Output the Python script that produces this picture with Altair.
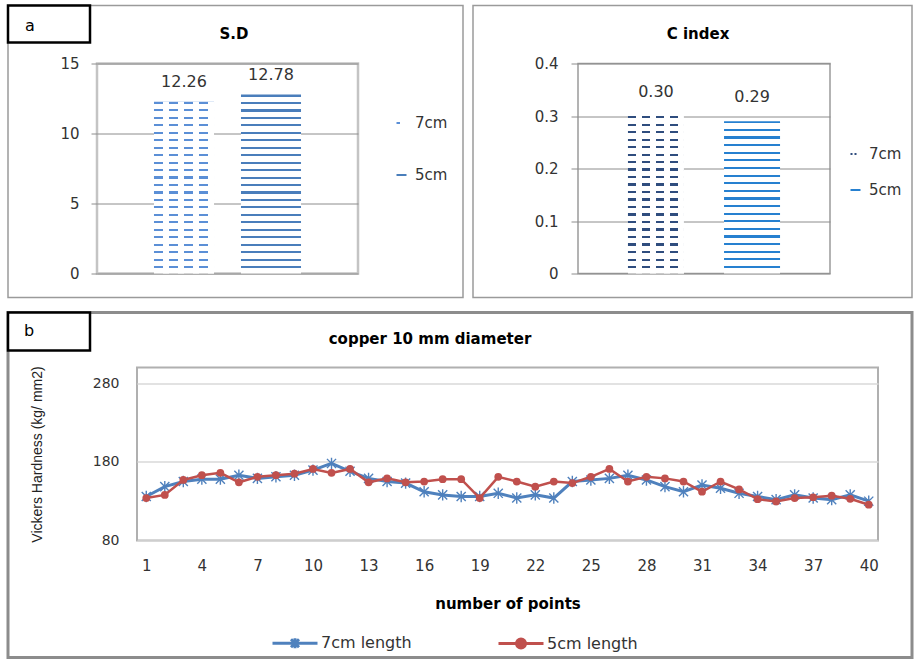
import altair as alt
import pandas as pd

# ---------------- data ----------------
sd_groups = ["7cm", "5cm"]
sd_values = [12.26, 12.78]
sd_labels = ["12.26", "12.78"]

ci_groups = ["7cm", "5cm"]
ci_values = [0.30, 0.29]
ci_labels = ["0.30", "0.29"]

points = list(range(1, 41))
hv_7cm = [136, 148.5, 155, 158, 158, 163, 159, 161, 163, 169.5,
          178, 168, 159, 155, 153, 142, 138, 136, 136, 140,
          134, 138, 134, 155, 157, 159, 163, 157, 148.5, 142,
          150.6, 146.5, 140, 136, 132, 138, 134, 132, 138, 130]
hv_5cm = [134, 138, 157, 163, 166, 154, 161, 163, 165, 171,
          166, 171, 154, 159, 154, 155, 158, 158, 134, 161,
          155, 148.5, 155, 153, 161, 171, 155, 161, 159, 155,
          142, 155, 145, 132.6, 129.6, 134, 135, 137, 133, 125.5]
series_names = ["7cm length", "5cm length"]
x_ticks = list(range(1, 41, 3))

# ---------------- style ----------------
FONT = "DejaVu Sans"
TXT = "#333333"
BLUE = "#4f81bd"
RED = "#c0504d"
one = pd.DataFrame({"k": [0]})


def stripe_fill(color, n, frac, vertical_stack=True, bg="#ffffff"):
    stops = []
    for k in range(n):
        a = k / n
        b = (k + frac) / n
        c = (k + 1) / n
        stops += [alt.GradientStop(offset=a, color=color),
                  alt.GradientStop(offset=b, color=color),
                  alt.GradientStop(offset=b, color=bg),
                  alt.GradientStop(offset=c, color=bg)]
    if vertical_stack:
        return alt.Gradient(gradient="linear", stops=stops, x1=0, y1=0, x2=0, y2=1)
    return alt.Gradient(gradient="linear", stops=stops, x1=0, y1=0, x2=1, y2=0)


def frame(x1, x2, y1, y2, stroke, sw, fill="#ffffff", fo=0):
    return alt.Chart(one).mark_rect(stroke=stroke, strokeWidth=sw, fill=fill, fillOpacity=fo).encode(
        x=alt.value(x1), x2=alt.value(x2), y=alt.value(y1), y2=alt.value(y2))


def label(txt, x, y, size, bold=False, align="center", font=FONT, color="#000000"):
    return alt.Chart(one).mark_text(text=txt, fontSize=size, fontWeight="bold" if bold else "normal",
                                    align=align, baseline="middle", font=font, color=color).encode(
        x=alt.value(x), y=alt.value(y))


def bar_panel(groups, values, labels, ymax, ticks, fmt_expr, W, H, colors, dash_counts,
              frame_box, title, title_xy, legend_xy, row_pad, sym_paths, label_dy,
              view_stroke, view_sw, tick_size, label_pad, pads):
    df = pd.DataFrame({"group": groups, "value": values, "label": labels})
    base = alt.Chart(df)
    x = alt.X("group:N", sort=groups,
              scale=alt.Scale(domain=groups, paddingInner=pads[0], paddingOuter=pads[1]), axis=None)
    y = alt.Y("value:Q", scale=alt.Scale(domain=[0, ymax], nice=False, zero=True),
              axis=alt.Axis(values=ticks, title=None, grid=True, gridColor="#8c8c8c", gridWidth=1,
                            domain=False, ticks=True, tickColor="#8c8c8c", tickSize=tick_size,
                            labelPadding=label_pad, labelFontSize=15, labelColor=TXT, labelFont=FONT,
                            labelExpr=fmt_expr))
    layers = [frame(*frame_box, stroke="#9a9a9a", sw=1.5)]
    for g, v, col, m in zip(groups, values, colors, dash_counts):
        h = v / ymax * H
        n = max(1, round(h / 7.6))
        sub = base.transform_filter(alt.datum.group == g)
        layers.append(sub.mark_bar(fill=stripe_fill(col, n, 0.28), strokeWidth=0).encode(x=x, y=y))
        if m:
            layers.append(sub.mark_bar(fill=stripe_fill("rgba(255,255,255,0)", m, 0.6,
                                                         vertical_stack=False),
                                       strokeWidth=0).encode(x=x, y=y))
    layers.append(base.mark_text(dy=label_dy, fontSize=16, font=FONT, color=TXT).encode(
        x=x, y=y, text="label:N"))
    leg = alt.Legend(orient="none", legendX=legend_xy[0], legendY=legend_xy[1], title=None,
                     labelFont=FONT, labelFontSize=15, labelColor=TXT, symbolSize=100,
                     symbolStrokeWidth=2, symbolOpacity=1, rowPadding=row_pad, labelOffset=6)
    layers.append(base.mark_point(opacity=0, filled=False).encode(
        x=x, y=y,
        color=alt.Color("group:N", scale=alt.Scale(domain=groups, range=colors), legend=leg),
        shape=alt.Shape("group:N", scale=alt.Scale(domain=groups, range=sym_paths), legend=leg)))
    layers.append(label(title, title_xy[0], title_xy[1], 15, bold=True))
    return alt.layer(*layers).properties(
        width=W, height=H, view=alt.ViewBackground(stroke=view_stroke, strokeWidth=view_sw))


# ---------- panel a : S.D ----------
W1, H1 = 261, 210
sd_chart = bar_panel(
    sd_groups, sd_values, sd_labels, 15, [0, 5, 10, 15], "datum.label",
    W1, H1, ["#5b8fd6", "#4a7ebb"], [4, 0],
    (-89, W1 + 105, -58, H1 + 24), "S.D", (137, -30), (297, 52), 36,
    ["M-1,0H-0.3", "M-1,0H1"], -20, "#c4c4c4", 2.5, 6, 12, (0.31, 0.655))
sd_chart = alt.layer(
    sd_chart,
    frame(-89, -7, -58, -21, stroke="#000000", sw=2.5, fill="#ffffff", fo=1),
    label("a", -67, -38, 16),
).properties(width=W1, height=H1)

# ---------- C index ----------
W2, H2 = 252, 210
ci_chart = bar_panel(
    ci_groups, ci_values, ci_labels, 0.4, [0, 0.1, 0.2, 0.3, 0.4],
    "datum.value == 0 ? '0' : format(datum.value, '.1f')",
    W2, H2, ["#2f4d7e", "#2680d0"], [4, 0],
    (-105, W2 + 82, -58, H2 + 24), "C index", (120, -30), (270, 83), 20,
    ["M-1,0H-0.6M-0.2,0H0.2", "M-1,0H1"], -24, "#9a9a9a", 1.5, 7, 13, (0.417, 0.52))

# ---------- panel b : line chart ----------
W3, H3 = 741, 173
hv_df = pd.DataFrame({
    "point": points * 2,
    "hv": hv_7cm + hv_5cm,
    "series": [series_names[0]] * len(points) + [series_names[1]] * len(points),
})
lbase = alt.Chart(hv_df)
lx = alt.X("point:Q", scale=alt.Scale(domain=[0.5, 40.5], nice=False, zero=False),
           axis=alt.Axis(values=x_ticks, title="number of points", titleFontWeight="bold",
                         titleFontSize=15, titleFont=FONT, titleColor="#000000", titlePadding=23,
                         labelFontSize=15, labelFont=FONT, labelColor=TXT, labelPadding=18,
                         ticks=False, domain=False, grid=False))
ly = alt.Y("hv:Q", scale=alt.Scale(domain=[80, 300], nice=False, zero=False),
           axis=alt.Axis(values=[80, 180, 280], title="Vickers Hardness (kg/ mm2)",
                         titleFont="Liberation Sans", titleFontSize=14, titleFontWeight="normal",
                         titleColor="#222222", titlePadding=48, labelFontSize=14, labelFont=FONT,
                         labelColor=TXT, labelPadding=18, ticks=False, domain=False, grid=True,
                         gridColor="#d9d9d9", gridWidth=1.5))
ASTER = "M0,-1V1M-0.8,-0.8L0.8,0.8M-0.8,0.8L0.8,-0.8"
# legend symbols: 20px box, drawn as a line (-35px .. +10px) with the marker at -12.5px
LEG7 = "M-3.5,0H1M-1.25,-0.5V0.5M-1.65,-0.4L-0.85,0.4M-1.65,0.4L-0.85,-0.4"
LEG5 = "M-3.5,0H1M-0.8,0A0.45,0.45,0,1,1,-1.7,0A0.45,0.45,0,1,1,-0.8,0Z"
s7 = lbase.transform_filter(alt.datum.series == series_names[0])
s5 = lbase.transform_filter(alt.datum.series == series_names[1])
lleg = alt.Legend(orient="none", legendX=159, legendY=264, direction="horizontal", title=None,
                  symbolSize=400, symbolStrokeWidth=3, symbolOpacity=1, labelFontSize=16,
                  labelFont=FONT, labelColor=TXT, columnPadding=80, labelOffset=2, padding=0)
line_chart = alt.layer(
    frame(-129, W3 + 34, -55, H3 + 117, stroke="#8c8c8c", sw=3),
    s7.mark_line(color=BLUE, strokeWidth=3).encode(x=lx, y=ly),
    s7.mark_point(shape=ASTER, size=130, color=BLUE, strokeWidth=1.4, filled=False, opacity=1).encode(x=lx, y=ly),
    s5.mark_line(color=RED, strokeWidth=2.5).encode(x=lx, y=ly),
    s5.mark_circle(size=60, color=RED, opacity=1).encode(x=lx, y=ly),
    lbase.mark_point(opacity=0, filled=True).encode(
        x=lx, y=ly,
        fill=alt.Fill("series:N", scale=alt.Scale(domain=series_names, range=[BLUE, RED]), legend=lleg),
        stroke=alt.Stroke("series:N", scale=alt.Scale(domain=series_names, range=[BLUE, RED]), legend=lleg),
        shape=alt.Shape("series:N", scale=alt.Scale(domain=series_names, range=[LEG7, LEG5]), legend=lleg)),
    frame(-129, -47, -55, -17, stroke="#000000", sw=2.5, fill="#ffffff", fo=1),
    label("b", -108, -37, 16),
    label("copper 10 mm diameter", 293, -29, 15, bold=True),
).properties(width=W3, height=H3, view=alt.ViewBackground(stroke="#b0b0b0", strokeWidth=2))

# invisible 1px spacer that shifts panel b's plot area 40px to the right of panel a's
spacer = alt.Chart(one).mark_point(opacity=0).encode(
    x=alt.value(0), y=alt.value(0)).properties(
    width=1, height=1, view=alt.ViewBackground(strokeWidth=0, fillOpacity=0))

top = alt.hconcat(sd_chart, ci_chart, spacing=6).resolve_scale(
    color="independent", shape="independent", x="independent", y="independent")
bottom = alt.hconcat(spacer, line_chart, spacing=39, bounds="flush").resolve_scale(
    fill="independent", stroke="independent", shape="independent", x="independent", y="independent")
chart = alt.vconcat(top, bottom, spacing=10).resolve_scale(
    color="independent", shape="independent", fill="independent", stroke="independent",
    x="independent", y="independent").properties(
    padding={"left": 5, "top": 2.5, "right": 0, "bottom": 0}, background="white")

chart.save("out.html", embed_options={"renderer": "svg", "actions": False})
